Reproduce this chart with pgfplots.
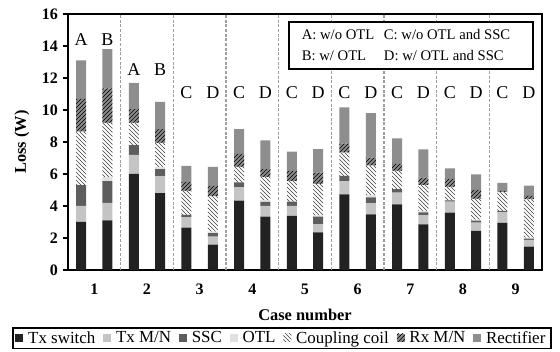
\documentclass[border=0pt]{standalone}
\usepackage{fontspec}
\setmainfont{Liberation Serif}
\usepackage{pgfplots}
\pgfplotsset{compat=1.18}
\usepackage{pgfplotstable}
\usetikzlibrary{patterns}
\definecolor{cTx}{HTML}{222222}
\definecolor{cTxMN}{HTML}{C4C4C4}
\definecolor{cSSC}{HTML}{5E5E5E}
\definecolor{cOTL}{HTML}{E0E0E0}
\definecolor{cRx}{HTML}{8A8A8A}
\definecolor{cRect}{HTML}{8E8E8E}
\pgfplotstableread{
x tx txmn ssc otl cc rxmn rect
0.75 3.00 1.00 1.30 0 3.35 2.05 2.40
1.25 3.10 1.10 1.35 0.25 3.40 2.15 2.45
1.75 6.00 1.20 0.60 0 1.40 0.85 1.65
2.25 4.80 1.05 0.45 0.15 1.50 0.85 1.70
2.75 2.65 0.65 0.15 0 1.50 0.55 1.00
3.25 1.58 0.50 0.22 0.10 2.20 0.65 1.20
3.75 4.33 0.84 0.31 0 0.97 0.80 1.55
4.25 3.33 0.67 0.25 0.10 1.45 0.50 1.80
4.75 3.38 0.62 0.27 0 1.29 0.64 1.20
5.25 2.35 0.50 0.48 0.09 1.96 0.70 1.47
5.75 4.73 0.83 0.32 0 1.45 0.57 2.27
6.25 3.48 0.69 0.37 0.15 1.83 0.50 2.78
6.75 4.10 0.73 0.23 0 1.13 0.44 1.60
7.25 2.85 0.57 0.18 0.09 1.62 0.46 1.77
7.75 3.58 0.69 0.08 0 0.85 0.49 0.66
8.25 2.44 0.52 0.12 0.07 1.29 0.56 0.98
8.75 2.94 0.68 0.08 0 1.15 0.10 0.50
9.25 1.46 0.42 0.08 0.06 2.40 0.21 0.64
}\losses
\begin{document}
\begin{tikzpicture}
\begin{axis}[
  scale only axis,
  width=355.5pt, height=192pt,
  ybar stacked, bar width=7.5pt,
  xmin=0.5, xmax=9.5, ymin=0, ymax=16,
  xtick={1,...,9},
  ytick={0,2,...,16},
  axis line style={line width=1.1pt},
  tick align=outside, ytick pos=left,
  major tick length=4pt,
  xtick style={draw=none},
  ytick style={line width=0.8pt, black},
  /pgf/number format/assume math mode=true,
  tick label style={font=\fontsize{12}{14}\selectfont\bfseries},
  xticklabel style={yshift=-3pt},
  xlabel={Case number},
  ylabel={Loss (W)},
  label style={font=\fontsize{12.3}{14}\selectfont\bfseries},
  xlabel style={at={(axis description cs:0.5,-0.175)}, anchor=center},
  ylabel style={at={(axis description cs:-0.097,0.5)}, anchor=center},
  extra x ticks={1.5,2.5,...,8.5},
  extra x tick labels={},
  extra x tick style={grid=major, major grid style={gray!75, line width=0.9pt, dash pattern=on 2.2pt off 1.3pt}, tick style={draw=none}},
  legend style={at={(0.451,-0.223)}, anchor=north, legend columns=7,
    draw=black, line width=1.3pt, inner xsep=2pt, inner ysep=0.5pt,
    font=\fontsize{12.7}{14.5}\selectfont,
    /tikz/every odd column/.append style={column sep=1.5pt},
    /tikz/every even column/.append style={column sep=4pt}},
  legend image code/.code={\path[#1] (0pt,-2.5pt) rectangle (6pt,3.5pt);},
  every axis plot/.append style={draw=none},
]
\coordinate (O) at (rel axis cs:0,0);
\coordinate (KB) at (axis cs:4.70,12.56);
\coordinate (KT) at (axis cs:9.33,15.5);
\coordinate (K1) at (axis cs:4.85,14.69);
\coordinate (K2) at (axis cs:4.85,13.38);
\coordinate (K3) at (axis cs:6.41,14.69);
\coordinate (K4) at (axis cs:6.41,13.38);
\addplot[fill=cTx] table[x=x,y=tx]{\losses};
\addlegendentry{Tx switch}
\addplot[fill=cTxMN] table[x=x,y=txmn]{\losses};
\addlegendentry{Tx M/N}
\addplot[fill=cSSC] table[x=x,y=ssc]{\losses};
\addlegendentry{SSC}
\addplot[fill=cOTL] table[x=x,y=otl]{\losses};
\addlegendentry{OTL}
\addplot[fill=white, postaction={pattern=north west lines, pattern color=black!75}] table[x=x,y=cc]{\losses};
\addlegendentry{Coupling coil}
\addplot[fill=cRx, postaction={pattern=north east lines, pattern color=black}] table[x=x,y=rxmn]{\losses};
\addlegendentry{Rx M/N}
\addplot[fill=cRect] table[x=x,y=rect]{\losses};
\addlegendentry{Rectifier}
% group letters
\path[font=\fontsize{13.5}{15}\selectfont]
  (axis cs:0.75,14.4) node {A} (axis cs:1.25,14.4) node {B}
  (axis cs:1.75,12.55) node {A} (axis cs:2.25,12.55) node {B}
  (axis cs:2.75,11.1) node {C} (axis cs:3.25,11.1) node {D}
  (axis cs:3.75,11.1) node {C} (axis cs:4.25,11.1) node {D}
  (axis cs:4.75,11.1) node {C} (axis cs:5.25,11.1) node {D}
  (axis cs:5.75,11.1) node {C} (axis cs:6.25,11.1) node {D}
  (axis cs:6.75,11.1) node {C} (axis cs:7.25,11.1) node {D}
  (axis cs:7.75,11.1) node {C} (axis cs:8.25,11.1) node {D}
  (axis cs:8.75,11.1) node {C} (axis cs:9.25,11.1) node {D};
\end{axis}
% key box
\draw[line width=1.5pt, fill=white] (KB) rectangle (KT);
\begin{scope}[font=\fontsize{11}{13}\selectfont]
  \node[anchor=west] at (K1) {A: w/o OTL};
  \node[anchor=west] at (K2) {B: w/ OTL};
  \node[anchor=west] at (K3) {C: w/o OTL and SSC};
  \node[anchor=west] at (K4) {D: w/ OTL and SSC};
\end{scope}
\pgfresetboundingbox
\path (O) ++(-51pt,-61.5pt) rectangle ++(420pt,264pt);
\end{tikzpicture}
\end{document}
